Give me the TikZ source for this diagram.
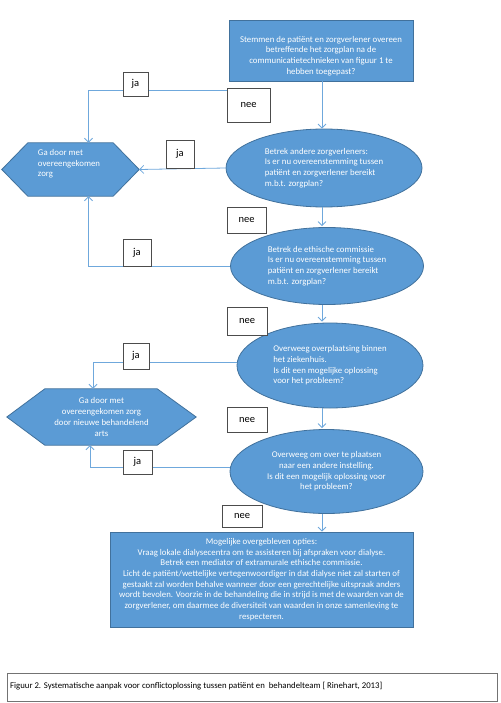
\documentclass[tikz,border=0pt]{standalone}
\usepackage{fontspec}
\setmainfont{Carlito}
\usetikzlibrary{shapes.geometric,arrows.meta,backgrounds}
\definecolor{boxblue}{HTML}{5B9BD5}
\definecolor{boxedge}{HTML}{41719C}
\definecolor{lineblue}{HTML}{6FA8DC}
\tikzset{
  x=1pt,y=-1pt,
  blubox/.style={draw=boxedge,fill=boxblue,line width=0.8pt,inner sep=0pt},
  bluetext/.style={text=white,font=\fontsize{8.8}{10.7}\selectfont,inner sep=0pt},
  oval/.style={ellipse,blubox,bluetext},
  hexbox/.style={rectangle,inner sep=0pt,bluetext,align=center},
  lbl/.style={draw=black!70,fill=white,line width=0.7pt,inner sep=0pt,font=\fontsize{10.5}{12}\selectfont},
  arr/.style={draw=lineblue,line width=0.8pt,-{Straight Barb[length=4pt,width=8pt]}},
}
\begin{document}
\begin{tikzpicture}
\useasboundingbox (0,0) rectangle (500,703);
% top rectangle
\node[blubox,minimum width=184,minimum height=61] (top) at (321,50.5) {};
\node[bluetext,align=center] (toptext) at (321,56) {Stemmen de patiënt en zorgverlener overeen\\betreffende het zorgplan na de\\communicatietechnieken van figuur 1 te\\hebben toegepast?};
% ellipses
\node[oval,minimum width=196,minimum height=78,align=left] (e1) at (324,168) {Betrek andere zorgverleners:\\Is er nu overeenstemming tussen\\patiënt en zorgverlener bereikt\\m.b.t. zorgplan?};
\node[oval,minimum width=193,minimum height=77,align=left] (e2) at (327,266) {Betrek de ethische commissie\\Is er nu overeenstemming tussen\\patiënt en zorgverlener bereikt\\m.b.t. zorgplan?};
\node[oval,minimum width=186,minimum height=85,align=left] (e3) at (330,365.5) {Overweeg overplaatsing binnen\\het ziekenhuis.\\Is dit een mogelijke oplossing\\voor het probleem?};
\node[oval,minimum width=193,minimum height=84,align=center] (e4) at (326.5,471.5) {Overweeg om over te plaatsen\\naar een andere instelling.\\Is dit een mogelijk oplossing voor\\het probleem?};
% bottom rectangle
\node[blubox,bluetext,minimum width=303,minimum height=95,align=center] (bot) at (261.5,579.5) {Mogelijke overgebleven opties:\\Vraag lokale dialysecentra om te assisteren bij afspraken voor dialyse.\\Betrek een mediator of extramurale ethische commissie.\\Licht de patiënt/wettelijke vertegenwoordiger in dat dialyse niet zal starten of\\gestaakt zal worden behalve wanneer door een gerechtelijke uitspraak anders\\wordt bevolen. Voorzie in de behandeling die in strijd is met de waarden van de\\zorgverlener, om daarmee de diversiteit van waarden in onze samenleving te\\respecteren.};
% hexagons
\node[hexbox,minimum width=137,minimum height=53] (h1) at (70.5,169.5) {};
\node[bluetext,align=left] (h1text) at (69,164) {Ga door met\\overeengekomen\\zorg};
\node[hexbox,minimum width=189,minimum height=56] (h2) at (101.5,417) {Ga door met\\overeengekomen zorg\\door nieuwe behandelend\\arts};
\begin{scope}[on background layer]
\filldraw[blubox] (h1.west) -- ([xshift=26]h1.north west) -- ([xshift=-26]h1.north east) -- (h1.east) -- ([xshift=-26]h1.south east) -- ([xshift=26]h1.south west) -- cycle;
\filldraw[blubox] (h2.west) -- ([xshift=38]h2.north west) -- ([xshift=-39]h2.north east) -- (h2.east) -- ([xshift=-39]h2.south east) -- ([xshift=38]h2.south west) -- cycle;
\end{scope}
% connectors
\draw[arr] ([yshift=-9]top.south west) -| ([xshift=18]h1.north);
\draw[arr] (top.south -| 322,0) -- (e1.north -| 322,0);
\draw[arr] (e1.west) -- (h1.east);
\draw[arr] (e1.south -| 322,0) -- ([yshift=1]e2.north -| 322,0);
\draw[arr] (e2.west) -| ([xshift=18]h1.south);
\draw[arr] (e2.south -| 322,0) -- ([yshift=1]e3.north -| 322,0);
\draw[arr] ([yshift=3]e3.west) -| ([xshift=-8.5]h2.north);
\draw[arr] (e3.south -| 322,0) -- ([yshift=1]e4.north -| 322,0);
\draw[arr] ([yshift=4]e4.west) -| ([xshift=-11.5]h2.south);
\draw[arr] (e4.south -| 322,0) -- (bot.north -| 322,0);
% labels
\node[lbl,minimum width=25,minimum height=24] (ja1) at (135.5,84) {ja};
\node[lbl,minimum width=43,minimum height=34] (nee1) at (248.5,105) {nee};
\node[lbl,minimum width=28,minimum height=28] (ja2) at (180,154) {ja};
\node[lbl,minimum width=39,minimum height=26] (nee2) at (246.5,220) {nee};
\node[lbl,minimum width=28,minimum height=27] (ja3) at (137,252.5) {ja};
\node[lbl,minimum width=40,minimum height=28] (nee3) at (247,321) {nee};
\node[lbl,minimum width=26,minimum height=26] (ja4) at (136,356) {ja};
\node[lbl,minimum width=40,minimum height=25] (nee4) at (247,419.5) {nee};
\node[lbl,minimum width=29,minimum height=24] (ja5) at (137.5,462) {ja};
\node[lbl,minimum width=40,minimum height=22] (nee5) at (242,516) {nee};
% caption
\node[draw=black!55,line width=0.8pt,minimum width=490,minimum height=28,inner sep=0pt] (cap) at (252,687) {};
\node[anchor=west,inner sep=0pt,font=\fontsize{8.75}{10}\selectfont] (captext) at (10,686.5) {Figuur 2. Systematische aanpak voor conflictoplossing tussen patiënt en \ behandelteam [ Rinehart, 2013]};
\end{tikzpicture}
\end{document}
